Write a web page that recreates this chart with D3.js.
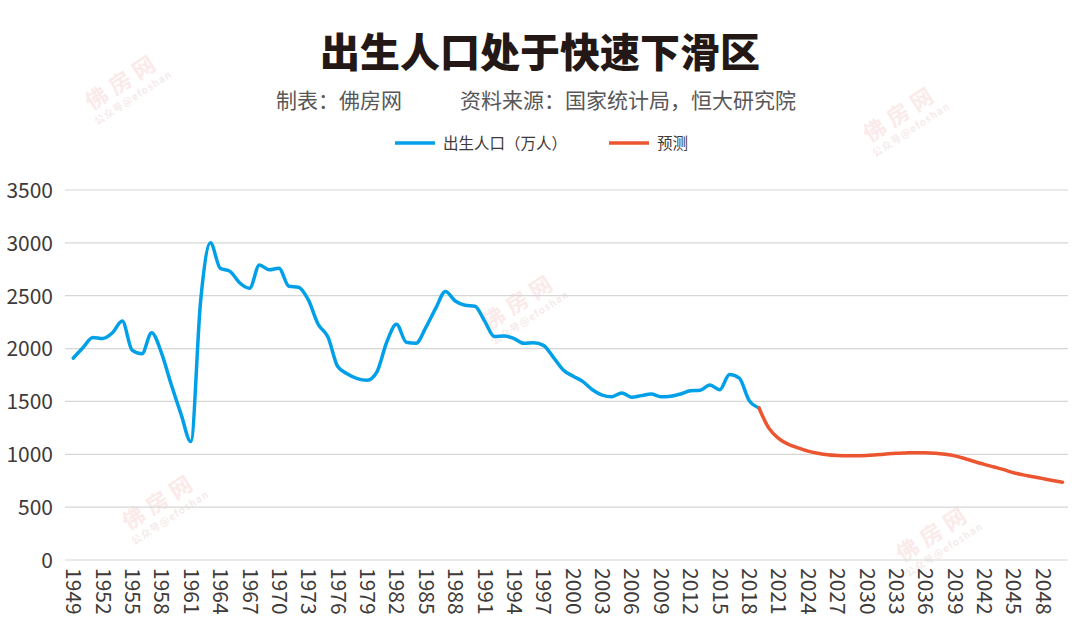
<!DOCTYPE html>
<html>
<head>
<meta charset="utf-8">
<script src="https://cdn.jsdelivr.net/npm/d3@7"></script>
<style>
  html, body { margin: 0; padding: 0; background: #ffffff; }
  svg { display: block; }
  text { font-family: "Noto Sans CJK SC", "Noto Sans", sans-serif; }
</style>
</head>
<body>
<svg id="chart" width="1080" height="630"></svg>
<script>
// ---------- data ----------
const titleText = "出生人口处于快速下滑区";
const makerText = "制表：佛房网";
const sourceText = "资料来源：国家统计局，恒大研究院";
const seriesNames = ["出生人口（万人）", "预测"];

const birthYears = [
  1949,1950,1951,1952,1953,1954,1955,1956,1957,1958,
  1959,1960,1961,1962,1963,1964,1965,1966,1967,1968,
  1969,1970,1971,1972,1973,1974,1975,1976,1977,1978,
  1979,1980,1981,1982,1983,1984,1985,1986,1987,1988,
  1989,1990,1991,1992,1993,1994,1995,1996,1997,1998,
  1999,2000,2001,2002,2003,2004,2005,2006,2007,2008,
  2009,2010,2011,2012,2013,2014,2015,2016,2017,2018,
  2019
];
const birthValues = [
  1910,2010,2105,2095,2150,2260,1985,1950,2150,1960,
  1660,1380,1120,2450,3000,2760,2730,2620,2570,2790,
  2745,2760,2590,2580,2460,2230,2110,1830,1760,1715,
  1700,1780,2060,2230,2060,2050,2200,2380,2540,2450,
  2410,2400,2260,2115,2120,2095,2050,2055,2030,1920,
  1800,1740,1690,1610,1560,1545,1580,1540,1555,1570,
  1545,1550,1570,1600,1605,1655,1610,1755,1720,1510,
  1440
];

const forecastYears = [
  2019,2020,2021,2022,2023,2024,2025,2026,2027,2028,
  2029,2030,2031,2032,2033,2034,2035,2036,2037,2038,
  2039,2040,2041,2042,2043,2044,2045,2046,2047,2048,
  2049,2050
];
const forecastValues = [
  1440,1250,1150,1095,1060,1030,1010,995,988,985,
  985,988,995,1003,1010,1013,1015,1015,1010,1000,
  985,960,932,905,880,855,825,805,788,770,
  752,735
];

const tickYears = [
  1949,1952,1955,1958,1961,1964,1967,1970,1973,1976,
  1979,1982,1985,1988,1991,1994,1997,2000,2003,2006,
  2009,2012,2015,2018,2021,2024,2027,2030,2033,2036,
  2039,2042,2045,2048
];
const yTicks = [0, 500, 1000, 1500, 2000, 2500, 3000, 3500];

// ---------- layout ----------
const svg = d3.select("#chart");
const plotLeft = 65, plotRight = 1068, plotTop = 190, plotBottom = 560;
const colors = { birth: "#00a0e9", forecast: "#eb5630" };

const allYears = birthYears.concat(forecastYears.slice(1));
const x = d3.scalePoint()
  .domain(allYears)
  .range([73.3, 1062.5]);
const y = d3.scaleLinear().domain([0, 3500]).range([plotBottom, plotTop]);

// ---------- watermarks ----------
const marks = [[127, 88], [905, 120], [524, 308], [164, 508], [938, 540]];
marks.forEach(([cx, cy]) => {
  const g = svg.append("g").attr("transform", `translate(${cx},${cy}) rotate(-33)`);
  g.append("text").attr("text-anchor", "middle").attr("y", 0)
    .attr("font-size", 22).attr("font-weight", 700).attr("letter-spacing", 6)
    .attr("fill", "#f4c4c4").attr("opacity", 0.35).text("佛房网");
  g.append("text").attr("text-anchor", "middle").attr("y", 15)
    .attr("font-size", 10).attr("font-weight", 700).attr("letter-spacing", 1)
    .attr("fill", "#e0c0c0").attr("opacity", 0.3).text("公众号@efoshan");
});

// ---------- grid ----------
svg.append("g").selectAll("line").data(yTicks).join("line")
  .attr("x1", plotLeft).attr("x2", plotRight)
  .attr("y1", d => y(d)).attr("y2", d => y(d))
  .attr("stroke", "#d6d6d6").attr("stroke-width", 1.2);

// y-axis labels
const yAxis = d3.axisLeft(y).tickValues(yTicks).tickSize(0).tickPadding(0)
  .tickFormat(d3.format("d"));
const yg = svg.append("g").attr("transform", "translate(53,0)").call(yAxis);
yg.select(".domain").remove();
yg.selectAll("text")
  .attr("font-size", 21).attr("fill", "#3e3a39")
  .attr("font-family", "'Noto Sans CJK SC', sans-serif")
  .attr("dy", "0.35em");

// x-axis labels (rotated)
const xAxis = d3.axisBottom(x).tickValues(tickYears).tickSize(0).tickPadding(0);
const xg = svg.append("g").attr("transform", `translate(0,${plotBottom})`).call(xAxis);
xg.select(".domain").remove();
xg.selectAll("text")
  .attr("font-size", 21).attr("fill", "#3e3a39")
  .attr("font-family", "'Noto Sans CJK SC', sans-serif")
  .attr("text-anchor", "start")
  .attr("transform", "translate(0,8) rotate(90)")
  .attr("x", 0).attr("y", 0).attr("dy", "0.36em");

// ---------- lines ----------
const line = d3.line()
  .x(d => x(d[0])).y(d => y(d[1]))
  .curve(d3.curveMonotoneX);

svg.append("path")
  .datum(birthYears.map((yr, i) => [yr, birthValues[i]]))
  .attr("d", line).attr("fill", "none")
  .attr("stroke", colors.birth).attr("stroke-width", 3.5)
  .attr("stroke-linejoin", "round").attr("stroke-linecap", "round");

svg.append("path")
  .datum(forecastYears.map((yr, i) => [yr, forecastValues[i]]))
  .attr("d", line).attr("fill", "none")
  .attr("stroke", colors.forecast).attr("stroke-width", 3.5)
  .attr("stroke-linejoin", "round").attr("stroke-linecap", "round");

// ---------- title ----------
svg.append("text").attr("x", 540).attr("y", 67).attr("text-anchor", "middle")
  .attr("font-size", 40).attr("font-weight", 900).attr("fill", "#231815")
  .text(titleText);

svg.append("text").attr("x", 276).attr("y", 108)
  .attr("font-size", 21).attr("fill", "#595757").text(makerText);
svg.append("text").attr("x", 460).attr("y", 108)
  .attr("font-size", 21).attr("fill", "#595757").text(sourceText);

// ---------- legend ----------
const legend = [
  { name: seriesNames[0], color: colors.birth, x1: 395, x2: 435, tx: 443 },
  { name: seriesNames[1], color: colors.forecast, x1: 609, x2: 649, tx: 657 }
];
const lg = svg.append("g");
legend.forEach(l => {
  lg.append("line").attr("x1", l.x1).attr("x2", l.x2).attr("y1", 143).attr("y2", 143)
    .attr("stroke", l.color).attr("stroke-width", 3.5);
  lg.append("text").attr("x", l.tx).attr("y", 149)
    .attr("font-size", 15.5).attr("fill", "#3e3a39").text(l.name);
});
</script>
</body>
</html>
